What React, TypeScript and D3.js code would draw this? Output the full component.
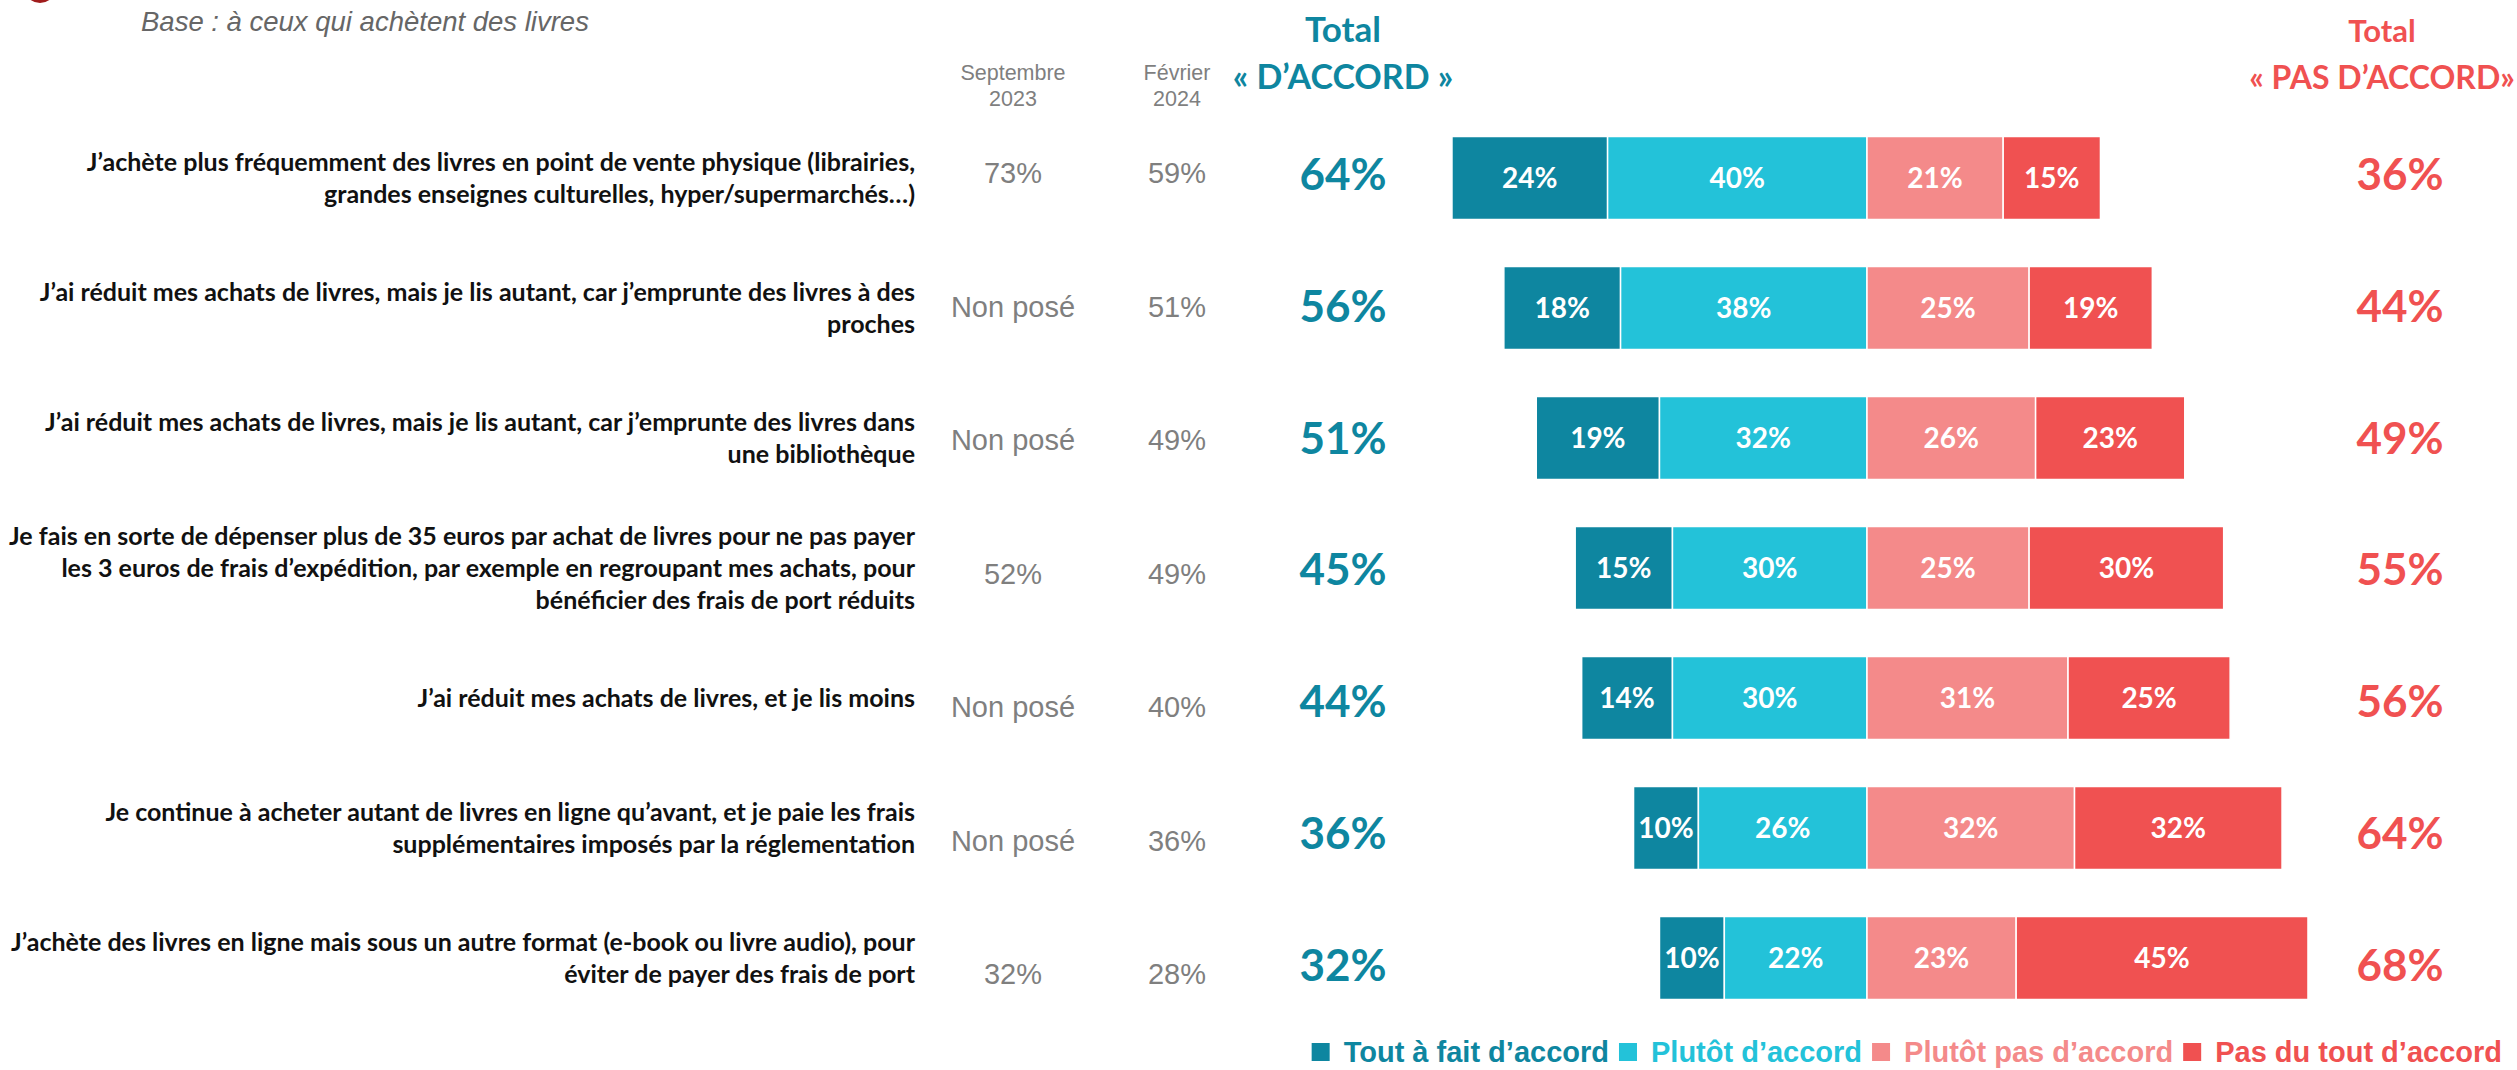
import React, { useEffect, useRef } from "react";
import * as d3 from "d3";

// statements (each line of a label is an entry)
const labels: string[][] = [
  ["J’achète plus fréquemment des livres en point de vente physique (librairies,", "grandes enseignes culturelles, hyper/supermarchés…)"],
  ["J’ai réduit mes achats de livres, mais je lis autant, car j’emprunte des livres à des", "proches"],
  ["J’ai réduit mes achats de livres, mais je lis autant, car j’emprunte des livres dans", "une bibliothèque"],
  ["Je fais en sorte de dépenser plus de 35 euros par achat de livres pour ne pas payer", "les 3 euros de frais d’expédition, par exemple en regroupant mes achats, pour", "bénéficier des frais de port réduits"],
  ["J’ai réduit mes achats de livres, et je lis moins"],
  ["Je continue à acheter autant de livres en ligne qu’avant, et je paie les frais", "supplémentaires imposés par la réglementation"],
  ["J’achète des livres en ligne mais sous un autre format (e-book ou livre audio), pour", "éviter de payer des frais de port"],
];

const sept2023 = ["73%", "Non posé", "Non posé", "52%", "Non posé", "Non posé", "32%"];
const fev2024 = ["59%", "51%", "49%", "49%", "40%", "36%", "28%"];

const toutAFait = [24, 18, 19, 15, 14, 10, 10];
const plutotAccord = [40, 38, 32, 30, 30, 26, 22];
const plutotPas = [21, 25, 26, 25, 31, 32, 23];
const pasDuTout = [15, 19, 23, 30, 25, 32, 45];

const totalAccord = [64, 56, 51, 45, 44, 36, 32];
const totalPasAccord = [36, 44, 49, 55, 56, 64, 68];

const seriesNames = ["Tout à fait d’accord", "Plutôt d’accord", "Plutôt pas d’accord", "Pas du tout d’accord"];
const colors = ["#0e86a0", "#23c2d9", "#f48a8a", "#f05151"];

const W = 2517;
const H = 1070;
const BOLD = "Lato, 'Open Sans', sans-serif";
const ARIAL = "'Liberation Sans', Arial, sans-serif";

export default function App() {
  const svgRef = useRef<SVGSVGElement>(null);

  useEffect(() => {
    if (!svgRef.current) return;
    const svg = d3.select(svgRef.current);
    svg.selectAll("*").remove();

    const idx = d3.range(labels.length);
    const x = d3.scaleLinear().domain([-100, 100]).range([1867 - 648.5, 1867 + 648.5]);
    const y = d3.scalePoint<number>().domain(idx).range([178, 958]);
    // the value columns sit on their own, slightly looser rows
    const yCols = d3.scalePoint<number>().domain(idx).range([173, 974]);
    const yTot = d3.scalePoint<number>().domain(idx).range([174, 965]);
    const barH = 83;

    // cut-off logo in the corner
    svg.append("circle").attr("cx", 40).attr("cy", -13).attr("r", 16).attr("fill", "#a01c1c");

    svg
      .append("text")
      .attr("x", 141)
      .attr("y", 31)
      .attr("font-family", ARIAL)
      .attr("font-style", "italic")
      .attr("font-size", 27.5)
      .attr("fill", "#666666")
      .text("Base : à ceux qui achètent des livres");

    // column headers
    const heads = [
      { x: 1013, lines: ["Septembre", "2023"] },
      { x: 1177, lines: ["Février", "2024"] },
    ];
    heads.forEach((h) => {
      h.lines.forEach((l, i) => {
        svg
          .append("text")
          .attr("x", h.x)
          .attr("y", 80 + i * 26)
          .attr("text-anchor", "middle")
          .attr("font-family", ARIAL)
          .attr("font-size", 21.5)
          .attr("fill", "#7f7f7f")
          .text(l);
      });
    });

    const totals = [
      { x: 1343, lines: ["Total", "« D’ACCORD »"], c: colors[0], fs: [35, 34] },
      { x: 2382, lines: ["Total", "« PAS D’ACCORD»"], c: colors[3], fs: [31, 32] },
    ];
    totals.forEach((t) => {
      t.lines.forEach((l, i) => {
        svg
          .append("text")
          .attr("x", t.x)
          .attr("y", 42 + i * 47)
          .attr("text-anchor", "middle")
          .attr("font-family", BOLD)
          .attr("font-weight", 700)
          .attr("font-size", t.fs[i])
          .attr("fill", t.c)
          .text(l);
      });
    });

    const rows = svg.append("g").selectAll("g").data(labels).join("g");

    // statement labels
    rows.each(function (lines, i) {
      const g = d3.select(this);
      const lh = 32;
      const y0 = (y(i) as number) - ((lines.length - 1) * lh) / 2;
      lines.forEach((l, k) => {
        g.append("text")
          .attr("x", 915)
          .attr("y", y0 + k * lh)
          .attr("dy", "0.35em")
          .attr("text-anchor", "end")
          .attr("font-family", BOLD)
          .attr("font-weight", 700)
          .attr("font-size", 25)
          .attr("fill", "#111111")
          .text(l);
      });
    });

    rows
      .append("text")
      .attr("x", 1013)
      .attr("y", (_, i) => yCols(i) as number)
      .attr("dy", "0.35em")
      .attr("text-anchor", "middle")
      .attr("font-family", ARIAL)
      .attr("font-size", 29)
      .attr("fill", "#7f7f7f")
      .text((_, i) => sept2023[i]);

    rows
      .append("text")
      .attr("x", 1177)
      .attr("y", (_, i) => yCols(i) as number)
      .attr("dy", "0.35em")
      .attr("text-anchor", "middle")
      .attr("font-family", ARIAL)
      .attr("font-size", 29)
      .attr("fill", "#7f7f7f")
      .text((_, i) => fev2024[i]);

    rows
      .append("text")
      .attr("x", 1343)
      .attr("y", (_, i) => yTot(i) as number)
      .attr("dy", "0.36em")
      .attr("text-anchor", "middle")
      .attr("font-family", BOLD)
      .attr("font-weight", 700)
      .attr("font-size", 44)
      .attr("fill", colors[0])
      .text((_, i) => totalAccord[i] + "%");

    rows
      .append("text")
      .attr("x", 2400)
      .attr("y", (_, i) => yTot(i) as number)
      .attr("dy", "0.36em")
      .attr("text-anchor", "middle")
      .attr("font-family", BOLD)
      .attr("font-weight", 700)
      .attr("font-size", 44)
      .attr("fill", colors[3])
      .text((_, i) => totalPasAccord[i] + "%");

    // diverging segments
    const segs = labels.map((_, i) => {
      const a1 = toutAFait[i];
      const a2 = plutotAccord[i];
      const d1 = plutotPas[i];
      const d2 = pasDuTout[i];
      return [
        { s: 0, x0: -(a1 + a2), x1: -a2, v: a1 },
        { s: 1, x0: -a2, x1: 0, v: a2 },
        { s: 2, x0: 0, x1: d1, v: d1 },
        { s: 3, x0: d1, x1: d1 + d2, v: d2 },
      ];
    });

    rows.each(function (_, i) {
      const g = d3.select(this);
      const cy = y(i) as number;
      const seg = g.selectAll("g.seg").data(segs[i]).join("g").attr("class", "seg");
      seg
        .append("rect")
        .attr("x", (d) => x(d.x0))
        .attr("y", cy - barH / 2)
        .attr("width", (d) => x(d.x1) - x(d.x0))
        .attr("height", barH)
        .attr("fill", (d) => colors[d.s])
        .attr("stroke", "#ffffff")
        .attr("stroke-width", 1.5);
      seg
        .append("text")
        .attr("x", (d) => (x(d.x0) + x(d.x1)) / 2)
        .attr("y", cy)
        .attr("dy", "0.36em")
        .attr("text-anchor", "middle")
        .attr("font-family", BOLD)
        .attr("font-weight", 700)
        .attr("font-size", 28)
        .attr("fill", "#ffffff")
        .text((d) => d.v + "%");
    });

    // legend, right aligned
    const legend = svg.append("g");
    const items = seriesNames.map((n, i) => {
      const it = legend.append("g");
      it.append("rect").attr("width", 18).attr("height", 18).attr("y", -9).attr("fill", colors[i]);
      const t = it
        .append("text")
        .attr("x", 32)
        .attr("dy", "0.35em")
        .attr("font-family", ARIAL)
        .attr("font-weight", 700)
        .attr("font-size", 29)
        .attr("fill", colors[i])
        .text(n);
      return { it, w: 32 + (t.node() as SVGTextElement).getComputedTextLength() };
    });
    const total = d3.sum(items, (d) => d.w) + 10 * (items.length - 1);
    let lx = 2502 - total;
    items.forEach((d) => {
      d.it.attr("transform", `translate(${lx},1052)`);
      lx += d.w + 10;
    });
  }, []);

  return (
    <svg
      ref={svgRef}
      width={W}
      height={H}
      style={{ position: "absolute", left: 0, top: 0, background: "#ffffff" }}
    />
  );
}
